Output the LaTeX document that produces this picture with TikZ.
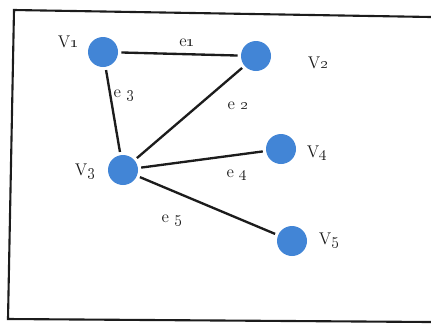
\documentclass[tikz,border=0pt]{standalone}
\usepackage{xcolor}
\usepackage{tikz}
\usetikzlibrary{positioning}
\definecolor{dotblue}{RGB}{66, 133, 214}
\definecolor{inkblack}{RGB}{28, 28, 28}

\begin{document}
\begin{tikzpicture}[x=0.03cm, y=-0.03cm, font=\fontsize{14.5}{16}\selectfont,
  vertex/.style={circle, fill=dotblue, minimum size=0.9cm, inner sep=0pt, outer sep=0.1cm},
  lbl/.style={inner sep=0pt, text=inkblack},
  link/.style={line width=2pt, inkblack}]
  \useasboundingbox (0,0) rectangle (431,324);
  % frame
  \draw[line width=1.8pt, inkblack] (431,17) -- (14,10) -- (8,319) -- (431,322);

  % vertices
  \node[vertex] (v1) at (103,52) {};
  \node[vertex] (v2) at (256,56) {};
  \node[vertex] (v3) at (123,170) {};
  \node[vertex] (v4) at (281,149) {};
  \node[vertex] (v5) at (292,241) {};

  \node[lbl] (lv1) at (68,42) {V\oldstylenums{1}};
  \node[lbl] (lv2) at (318,63) {V\oldstylenums{2}};
  \node[lbl] (lv3) at (85,171) {V\oldstylenums{3}};
  \node[lbl] (lv4) at (317,153) {V\oldstylenums{4}};
  \node[lbl] (lv5) at (329,240) {V\oldstylenums{5}};

  % edges
  \draw[link] (v1) -- (v2);
  \draw[link] (v1) -- (v3);
  \draw[link] (v3) -- (v2);
  \draw[link] (v3) -- (v4);
  \draw[link] (v3) -- (v5);

  \node[lbl] (le1) at (187,43) {e\oldstylenums{1}};
  \node[lbl] (le2) at (238,106) {e \oldstylenums{2}};
  \node[lbl] (le3) at (124,95) {e \oldstylenums{3}};
  \node[lbl] (le4) at (237,175) {e \oldstylenums{4}};
  \node[lbl] (le5) at (172,220) {e \oldstylenums{5}};
\end{tikzpicture}
\end{document}
